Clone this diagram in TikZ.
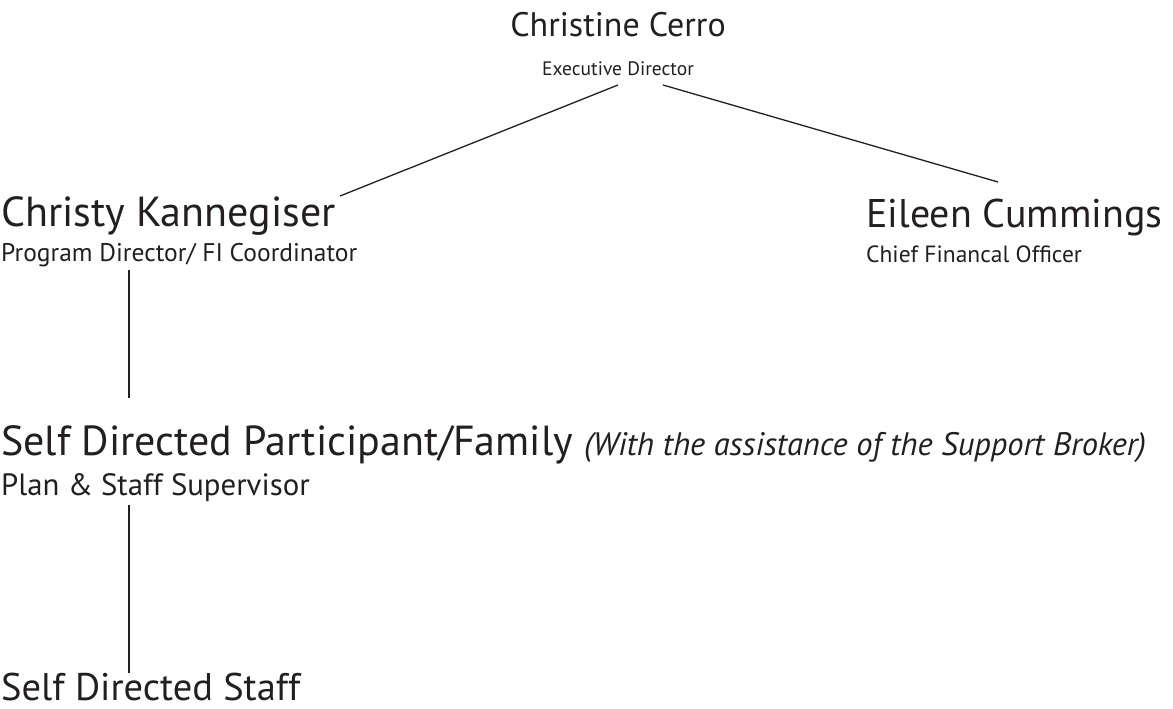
\documentclass[tikz,border=0pt]{standalone}
\usepackage{fontspec}
\setmainfont{PT Sans}
\usetikzlibrary{positioning}
\definecolor{ink}{HTML}{231F20}

\tikzset{
  person/.style={inner sep=0pt, text=ink, font=\fontsize{42}{42}\selectfont},
  role/.style={inner sep=0pt, text=ink, font=\fontsize{24}{24}\selectfont},
  link/.style={draw=ink, line width=1.3pt},
}

\begin{document}
\begin{tikzpicture}[x=1pt, y=-1pt]
            \useasboundingbox (0,0) rectangle (1173,709);

            % Direção
            \node[person, anchor=base, font=\fontsize{34}{34}\selectfont] (ceo) at (618,37) {Christine Cerro};
            \node[role, anchor=base, font=\fontsize{19.5}{19.5}\selectfont] (ceorole) at (618,75) {Executive Director};

            % Segundo nível
            \node[person, anchor=base west] (pd) at (1,226) {Christy Kannegiser};
            \node[role, anchor=base west, font=\fontsize{25.5}{25.5}\selectfont] (pdrole) at (1,261) {Program Director/ FI Coordinator};
            \node[person, anchor=base west, font=\fontsize{40}{40}\selectfont] (cfo) at (866,227) {Eileen Cummings};
            \node[role, anchor=base west, font=\fontsize{23.5}{23.5}\selectfont] (cforole) at (866,262) {Chief Financal Officer};

            % Participante e equipe
            \node[person, anchor=base west] (family) at (1,455) {Self Directed Participant/Family {\fontsize{32.5}{32.5}\selectfont\itshape (With the assistance of the Support Broker)}};
            \node[role, anchor=base west, font=\fontsize{30.8}{30.8}\selectfont] (familyrole) at (1,495) {Plan \& Staff Supervisor};
            \node[person, anchor=base west, font=\fontsize{38.5}{38.5}\selectfont] (staff) at (1,700) {Self Directed Staff};

            % Ligações
            \draw[link] ([yshift=-10]ceorole.base) -- ([shift={(339,-30)}]pd.base west);
            \draw[link] ([shift={(45,10)}]ceorole.base) -- ([shift={(132,-45)}]cfo.base west);
            \draw[link] ([shift={(128,9)}]pdrole.base west) -- ([shift={(128,-57)}]family.base west);
            \draw[link] ([shift={(128,10)}]familyrole.base west) -- ([shift={(128,-27)}]staff.base west);
        \end{tikzpicture}
\end{document}
